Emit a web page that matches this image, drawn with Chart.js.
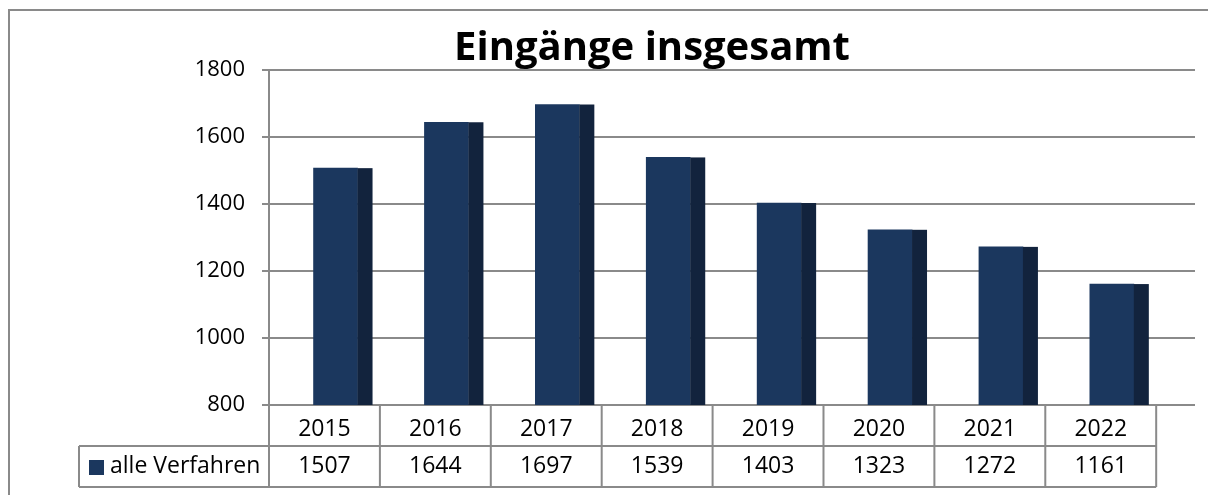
<!DOCTYPE html>
<html lang="de">
<head>
    <meta charset="UTF-8">
    <title>Eingänge insgesamt</title>
    <script src="https://cdn.jsdelivr.net/npm/chart.js"></script>
    <style>
        html, body { margin: 0; padding: 0; background: #fff; }
        #wrap { position: relative; width: 1208px; height: 495px; }
    </style>
</head>
<body>
    <div id="wrap">
        <canvas id="grafico"></canvas>
    </div>

    <script>
        const jahre = ["2015", "2016", "2017", "2018", "2019", "2020", "2021", "2022"];
        const werte = [1507, 1644, 1697, 1539, 1403, 1323, 1272, 1161];
        const serienName = "alle Verfahren";
        const yTicks = [800, 1000, 1200, 1400, 1600, 1800];

        const schrift = "'Open Sans', 'Noto Sans', sans-serif";
        const farbeVorne = "#1b375e";
        const farbeSeite = "#12233d";
        const grau = "#8a8a8a";

        // Rahmen links/oben (rechts abgeschnitten wie im Original)
        const rahmen = {
            id: "rahmen",
            afterDraw(chart) {
                const ctx = chart.ctx;
                ctx.save();
                ctx.strokeStyle = grau;
                ctx.lineWidth = 2;
                ctx.beginPath();
                ctx.moveTo(9, 495);
                ctx.lineTo(9, 10);
                ctx.lineTo(1208, 10);
                ctx.stroke();
                ctx.restore();
            }
        };

        // dunkle Seitenfläche der Säulen (3D-Eindruck)
        const seite = {
            id: "seite",
            afterDatasetsDraw(chart) {
                const ctx = chart.ctx;
                const meta = chart.getDatasetMeta(0);
                const unten = chart.chartArea.bottom;
                ctx.save();
                ctx.fillStyle = farbeSeite;
                meta.data.forEach(bar => {
                    const x = bar.x + bar.width / 2;
                    ctx.fillRect(x, bar.y, 15, unten - bar.y);
                });
                ctx.restore();
            }
        };

        // Datentabelle unter dem Diagramm
        const tabelle = {
            id: "tabelle",
            afterDraw(chart) {
                const ctx = chart.ctx;
                const xs = chart.scales.x;
                const top = chart.scales.y.getPixelForValue(800);
                const rowH = 41;
                const mid = top + rowH;
                const bottom = top + 2 * rowH;
                const links = 79;
                const ende = xs.getPixelForValue(jahre.length - 0.6);

                ctx.save();
                ctx.strokeStyle = grau;
                ctx.lineWidth = 2;
                ctx.beginPath();
                ctx.moveTo(links, mid); ctx.lineTo(ende, mid);
                ctx.moveTo(links, bottom); ctx.lineTo(ende, bottom);
                ctx.moveTo(links, mid); ctx.lineTo(links, bottom);
                for (let i = 0; i <= jahre.length; i++) {
                    const x = xs.getPixelForValue(i - 0.6);
                    ctx.moveTo(x, top); ctx.lineTo(x, bottom);
                }
                ctx.stroke();

                ctx.fillStyle = "#000";
                ctx.font = "23px " + schrift;
                ctx.textAlign = "center";
                ctx.textBaseline = "middle";
                jahre.forEach((j, i) => {
                    const cx = xs.getPixelForValue(i - 0.1);
                    ctx.fillText(j, cx, top + rowH / 2 + 4);
                    ctx.fillText(String(werte[i]), cx, mid + rowH / 2);
                });

                ctx.fillStyle = farbeVorne;
                ctx.fillRect(89, mid + 14, 15, 15);
                ctx.fillStyle = "#000";
                ctx.textAlign = "left";
                ctx.fillText(serienName, 110, mid + rowH / 2);
                ctx.restore();
            }
        };

        const ctx = document.getElementById("grafico").getContext("2d");
        new Chart(ctx, {
            type: "bar",
            data: {
                labels: jahre,
                datasets: [{
                    label: serienName,
                    data: werte.map((v, i) => ({ x: i, y: v })),
                    backgroundColor: farbeVorne,
                    borderWidth: 0,
                    barThickness: 44
                }]
            },
            options: {
                responsive: true,
                maintainAspectRatio: false,
                animation: false,
                layout: { padding: { left: 109, right: 13, top: 0, bottom: 90 } },
                plugins: {
                    legend: { display: false },
                    tooltip: { enabled: false },
                    title: {
                        display: true,
                        text: "Eingänge insgesamt",
                        color: "#000",
                        font: { family: schrift, size: 40, weight: "bold", lineHeight: 1.0 },
                        padding: { top: 29, bottom: 1 }
                    }
                },
                scales: {
                    x: {
                        type: "linear",
                        display: false,
                        offset: false,
                        min: -0.6,
                        max: 7.75
                    },
                    y: {
                        min: 800,
                        max: 1800,
                        afterFit(scale) { scale.width = 160; },
                        afterBuildTicks(scale) { scale.ticks = yTicks.map(v => ({ value: v })); },
                        border: { display: true, color: grau, width: 2 },
                        grid: { color: grau, lineWidth: 2, tickLength: 7, tickColor: grau },
                        ticks: {
                            color: "#000",
                            padding: 17,
                            font: { family: schrift, size: 22 },
                            callback: v => String(v)
                        }
                    }
                }
            },
            plugins: [rahmen, seite, tabelle]
        });
    </script>
</body>
</html>
